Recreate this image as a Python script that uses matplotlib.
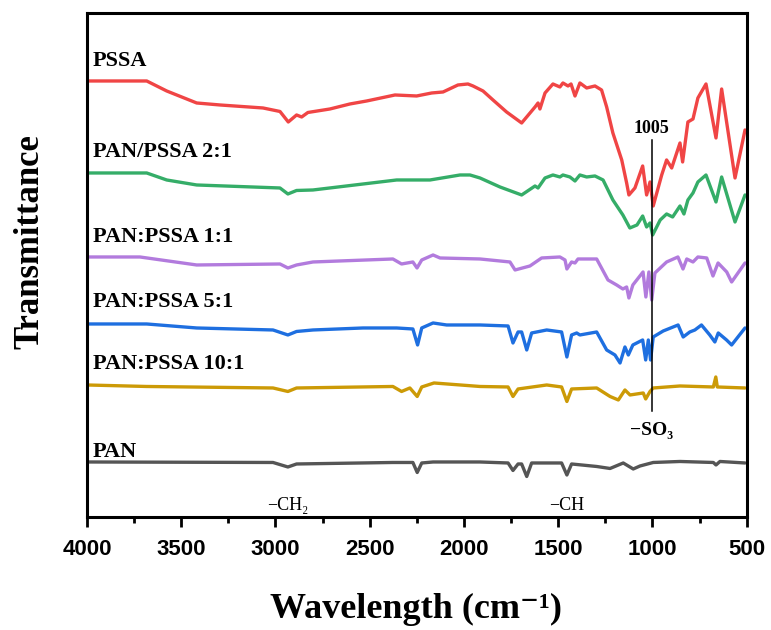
import numpy as np
from matplotlib import pyplot as plt
from matplotlib.ticker import MultipleLocator

# FTIR spectra, wavenumber (cm-1) vs stacked transmittance (arbitrary units, offset per curve)
pssa_w = [4000, 3683, 3577, 3418, 3294, 3066, 2976, 2932, 2888, 2861, 2828, 2711, 2605, 2516, 2366,
          2251, 2171, 2111, 2032, 1979, 1952, 1899, 1846, 1774, 1694, 1623, 1607, 1597, 1570, 1528,
          1491, 1475, 1448, 1432, 1411, 1385, 1349, 1305, 1270, 1243, 1210, 1163, 1137, 1125, 1093,
          1052, 1031, 1013, 996, 951, 925, 898, 854, 840, 812, 785, 759, 716, 663, 633, 562, 509]
pssa_t = [434, 434, 424, 412, 410, 407, 403.5, 393, 400, 398, 402.5, 406, 411, 414, 420,
          419, 422, 423, 430, 431, 429, 424, 415, 403, 392, 408, 412, 406, 422, 431,
          428, 432, 429, 431, 419, 432, 427, 429, 425, 408, 382, 355, 332, 320, 327,
          349, 320, 333, 309, 340, 355, 347, 372, 353, 393, 396, 417, 431, 377, 426, 337, 385]

pan21_w = [4000, 3683, 3577, 3418, 2976, 2934, 2888, 2801, 2357, 2180, 2021, 1968, 1915, 1809, 1694,
           1623, 1607, 1570, 1528, 1491, 1475, 1438, 1411, 1385, 1349, 1305, 1262, 1210, 1157, 1120,
           1082, 1052, 1031, 1013, 999, 959, 925, 893, 854, 833, 812, 785, 759, 716, 663, 633, 562, 509]
pan21_t = [342, 342, 335, 330, 327, 321, 324.5, 325, 335, 335, 340, 340, 337, 328, 320,
           329, 327, 337, 340, 338, 340, 338, 334, 340, 338, 339, 335, 315, 300, 287,
           290, 299, 288, 292, 280, 295, 301, 298, 309, 301, 315, 322, 333, 340, 313, 338, 293, 320]

pan11_w = [4000, 3719, 3418, 2976, 2934, 2888, 2801, 2377, 2331, 2271, 2249, 2224, 2164, 2127, 1915,
           1756, 1729, 1650, 1588, 1491, 1464, 1454, 1429, 1411, 1395, 1296, 1236, 1190, 1157, 1137,
           1125, 1104, 1050, 1035, 1019, 1004, 987, 925, 865, 838, 818, 785, 759, 712, 679, 652,
           606, 580, 509]
pan11_t = [258, 258, 250, 251, 247, 250, 253, 256, 251, 253, 247, 255, 260, 257, 256,
           253, 245, 249, 257, 258, 255, 246, 253, 252, 256, 256, 235, 230, 226, 228,
           217, 230, 243, 218, 243, 215, 242, 253, 258, 246, 256, 253, 258, 257, 239, 252,
           243, 233, 252]

pan51_w = [4000, 3683, 3418, 3013, 2934, 2888, 2801, 2536, 2357, 2271, 2246, 2224, 2164, 2092, 1915,
           1766, 1740, 1713, 1694, 1667, 1641, 1561, 1482, 1454, 1429, 1402, 1385, 1296, 1243, 1199,
           1172, 1146, 1128, 1104, 1052, 1036, 1022, 1010, 996, 943, 864, 837, 802, 775, 740, 696,
           669, 651, 607, 580, 509]
pan51_t = [191, 191, 187, 185, 180, 183.5, 185, 187, 187, 186, 170, 187, 192, 190, 190,
           189, 172, 183, 183, 165, 182, 185, 183, 158, 180, 182, 180, 183, 165, 160,
           152, 168, 160, 170, 175, 155, 175, 155, 178, 184, 190, 178, 183, 185, 190, 180,
           173, 182, 175, 170, 187]

pan101_w = [4000, 3683, 3013, 2934, 2888, 2377, 2331, 2287, 2248, 2224, 2159, 1915, 1766, 1740, 1713,
            1561, 1482, 1454, 1429, 1296, 1225, 1181, 1146, 1119, 1049, 1036, 1013, 996, 854, 677,
            664, 656, 509]
pan101_t = [130, 128.5, 127, 123.5, 127, 128.5, 123.5, 127, 118.5, 128, 132, 128.5, 128, 118.5, 126,
            130, 128, 113.5, 126, 127, 118.5, 115, 125, 120, 122, 116, 123.5, 127, 129, 128,
            138, 128, 127]

pan_w = [4000, 3013, 2934, 2888, 2377, 2271, 2248, 2224, 2164, 1915, 1766, 1740, 1713, 1694, 1667,
         1641, 1482, 1454, 1429, 1296, 1225, 1155, 1102, 1066, 996, 854, 677, 663, 642, 509]
pan_t = [53, 52.5, 48, 51, 52.5, 52.5, 42.5, 52, 53, 53, 52, 44.5, 51, 51, 38.5,
         52, 52, 40, 51, 48.5, 46.5, 52, 46, 49, 52.5, 53.5, 52.5, 50, 53.5, 52]

series = [
    ("PSSA", pssa_w, pssa_t, "#F04545", 449),
    ("PAN/PSSA 2:1", pan21_w, pan21_t, "#35AD68", 358),
    ("PAN:PSSA 1:1", pan11_w, pan11_t, "#B27BDD", 273),
    ("PAN:PSSA 5:1", pan51_w, pan51_t, "#1E6FE0", 208),
    ("PAN:PSSA 10:1", pan101_w, pan101_t, "#CC9A06", 146),
    ("PAN", pan_w, pan_t, "#555555", 58),
]

peak_pos = 1005
peak_top = 375
peak_bottom = 104

serif = ['Liberation Serif', 'DejaVu Serif']

fig = plt.figure(figsize=(7.71, 6.30), dpi=100)
ax = fig.add_axes([0.1128, 0.1794, 0.8557, 0.80])

for name, w, t, c, ly in series:
    ax.plot(w, t, color=c, lw=2.4, solid_joinstyle='round', solid_capstyle='round')
    ax.text(3968, ly, name, family=serif, fontweight='bold', fontsize=16, va='baseline', ha='left')

ax.plot([peak_pos, peak_pos], [peak_bottom, peak_top], color='black', lw=1.1)
ax.text(peak_pos, 382, str(peak_pos), family=serif, fontweight='bold', fontsize=13,
        ha='center', va='baseline')
ax.text(peak_pos, 80, "−SO₃", family=serif, fontweight='bold', fontsize=14,
        ha='center', va='baseline')
ax.text(2934, 5, "−CH₂", family=serif, fontsize=13, ha='center', va='baseline')
ax.text(1454, 5, "−CH", family=serif, fontsize=13, ha='center', va='baseline')

ax.set_xlim(4000, 500)
ax.set_ylim(-2, 502)
ax.xaxis.set_major_locator(MultipleLocator(500))
ax.xaxis.set_minor_locator(MultipleLocator(250))
ax.set_yticks([])
ax.tick_params(axis='x', which='major', direction='out', length=7.5, width=2, pad=8)
ax.tick_params(axis='x', which='minor', direction='out', length=4.5, width=2)
for lab in ax.get_xticklabels():
    lab.set_family('Liberation Sans')
    lab.set_fontweight('bold')
    lab.set_fontsize(16)
for s in ax.spines.values():
    s.set_linewidth(2.2)

ax.text(0.499, -0.2004, "Wavelength (cm⁻¹)", transform=ax.transAxes, family=serif,
        fontweight='bold', fontsize=26, ha='center', va='baseline')
ax.text(-0.0864, 0.546, "Transmittance", transform=ax.transAxes, family=serif,
        fontweight='bold', fontsize=25, rotation=90, ha='center', va='center')

plt.savefig('out.png', dpi=100)
